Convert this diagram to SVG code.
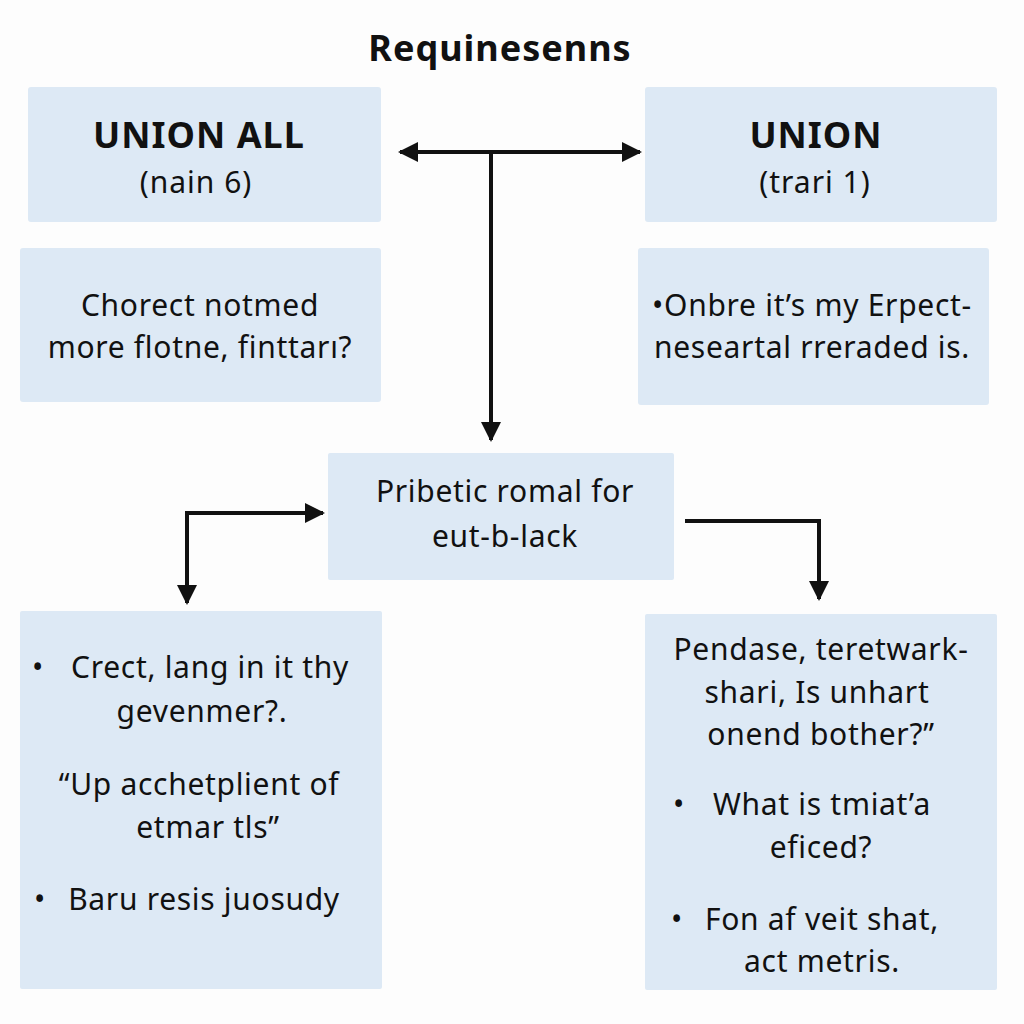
<svg xmlns="http://www.w3.org/2000/svg" width="1024" height="1024" viewBox="0 0 1024 1024">
<defs>
<marker id="ah" viewBox="0 0 10 10" refX="9" refY="5" markerWidth="5" markerHeight="5" orient="auto-start-reverse" markerUnits="strokeWidth">
<path d="M0,0 L10,5 L0,10 Z" fill="#111"/>
</marker>
<style>
.box{fill:#dde9f5;}
.t{font-family:"Noto Sans","Open Sans","Liberation Sans",sans-serif;font-size:30px;letter-spacing:0.7px;fill:#111;text-anchor:middle;}
.h{font-family:"Noto Sans","Open Sans","Liberation Sans",sans-serif;font-size:36px;letter-spacing:1px;font-weight:bold;fill:#111;text-anchor:middle;}
.s{font-family:"Noto Sans","Open Sans","Liberation Sans",sans-serif;font-size:30px;letter-spacing:1px;fill:#111;text-anchor:middle;}
.c{fill:none;stroke:#111;stroke-width:4;}
</style>
</defs>
<rect width="1024" height="1024" fill="#fdfdfd"/>
<text class="h" x="500" y="61">Requinesenns</text>

<g id="union-all">
<rect class="box" x="28" y="87" width="353" height="135" rx="3"/>
<text class="h" x="199" y="148">UNION ALL</text>
<text class="s" x="196" y="193">(nain 6)</text>
</g>
<g id="union">
<rect class="box" x="645" y="87" width="352" height="135" rx="3"/>
<text class="h" x="816" y="148">UNION</text>
<text class="s" x="815" y="193">(trari 1)</text>
</g>
<g id="left-note">
<rect class="box" x="20" y="248" width="361" height="154" rx="3"/>
<text class="t" x="200" y="316">Chorect notmed</text>
<text class="t" x="200" y="358">more flotne, finttarı?</text>
</g>
<g id="right-note">
<rect class="box" x="638" y="248" width="351" height="157" rx="3"/>
<text class="t" x="812" y="316">•Onbre it’s my Erpect-</text>
<text class="t" x="812" y="358">neseartal rreraded is.</text>
</g>
<g id="center">
<rect class="box" x="328" y="453" width="346" height="127" rx="2"/>
<text class="t" x="505" y="502">Pribetic romal for</text>
<text class="t" x="505" y="547">eut-b-lack</text>
</g>
<g id="bottom-left">
<rect class="box" x="20" y="611" width="362" height="378" rx="2"/>
<text class="t" x="38" y="678" text-anchor="start">•</text>
<text class="t" x="210" y="678">Crect, lang in it thy</text>
<text class="t" x="202" y="722">gevenmer?.</text>
<text class="t" x="199" y="795">“Up acchetplient of</text>
<text class="t" x="208" y="838">etmar tls”</text>
<text class="t" x="40" y="910" text-anchor="start">•</text>
<text class="t" x="204" y="910">Baru resis juosudy</text>
</g>
<g id="bottom-right">
<rect class="box" x="645" y="614" width="352" height="376" rx="2"/>
<text class="t" x="821" y="660">Pendase, teretwark-</text>
<text class="t" x="817" y="703">shari, Is unhart</text>
<text class="t" x="821" y="745">onend bother?”</text>
<text class="t" x="679" y="815" text-anchor="start">•</text>
<text class="t" x="822" y="815">What is tmiat’a</text>
<text class="t" x="821" y="858">eficed?</text>
<text class="t" x="677" y="930" text-anchor="start">•</text>
<text class="t" x="822" y="930">Fon af veit shat,</text>
<text class="t" x="822" y="972">act metris.</text>
</g>

<g id="connectors">
<line class="c" x1="400" y1="152" x2="640" y2="152" marker-start="url(#ah)" marker-end="url(#ah)"/>
<line class="c" x1="491" y1="152" x2="491" y2="440" marker-end="url(#ah)"/>
<polyline class="c" points="187,603 187,513 323,513" marker-start="url(#ah)" marker-end="url(#ah)"/>
<polyline class="c" points="685,521 819,521 819,599" marker-end="url(#ah)"/>
</g>
</svg>
